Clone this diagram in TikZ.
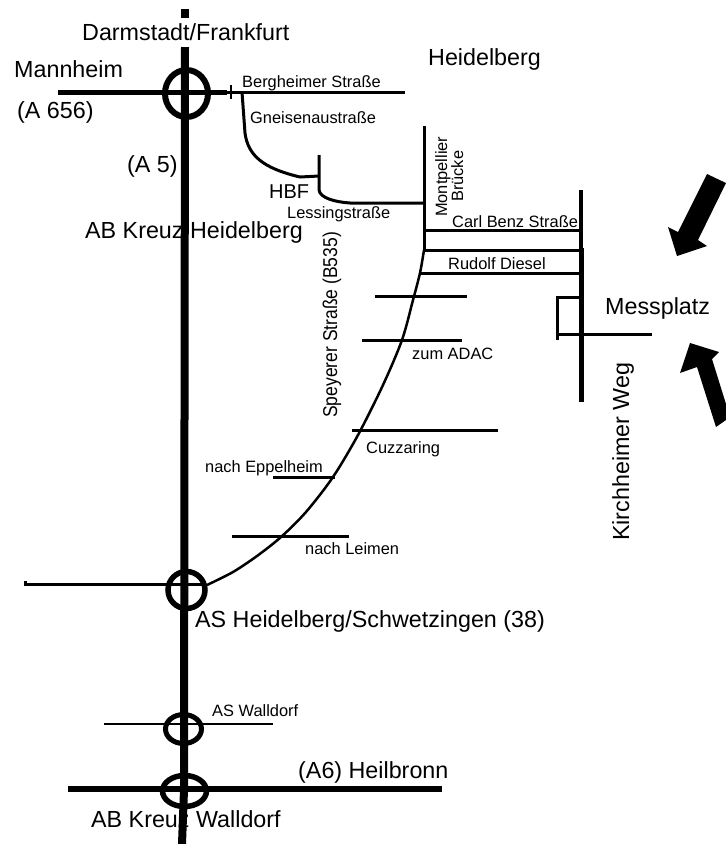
\documentclass[tikz,border=0pt]{standalone}
\usepackage{fontspec}
\setmainfont{Liberation Sans}
\newfontfamily\narrowfont[FakeStretch=.875]{Liberation Sans}
\tikzset{
	biglabel/.style={font=\fontsize{23.3pt}{25pt}\selectfont},
	midlabel/.style={font=\fontsize{20pt}{22pt}\selectfont},
	narrowlabel/.style={font=\narrowfont\fontsize{20pt}{22pt}\selectfont},
	smalllabel/.style={font=\fontsize{16.4pt}{18pt}\selectfont},
	highway/.style={draw,line width=8pt},
	mainroad/.style={draw,line width=5pt},
	road/.style={draw,line width=3pt},
	junction/.style={draw,line width=5.5pt}
}
\begin{document}
\begin{tikzpicture}[x=1pt,y=-1pt,% one unit is one pixel of the map
		every node/.style={
			anchor=base west,
			inner sep=0pt
		}
	]
	\useasboundingbox (0,0) rectangle (726,844);
	% labels
	\node[biglabel](Darmstadt) at (82,40){Darmstadt/Frankfurt};
	\node[biglabel](Mannheim) at (14,77){Mannheim};
	\node[biglabel](A656) at (17,118){(A 656)};
	\node[biglabel](Heidelberg) at (428,65){Heidelberg};
	\node[biglabel](A5) at (127,172){(A 5)};
	\node[biglabel](KreuzHD) at (85,238){AB Kreuz Heidelberg};
	\node[midlabel](HBF) at (269,198){HBF};
	\node[smalllabel](Bergheimer) at (242,87){Bergheimer Straße};
	\node[smalllabel](Gneisenau) at (250,123){Gneisenaustraße};
	\node[smalllabel](Lessing) at (287,218){Lessingstraße};
	\node[smalllabel,rotate=90](Montpellier) at (447,217){Montpellier};
	\node[smalllabel,rotate=90](Bruecke) at (463,202){Brücke};
	\node[smalllabel](CarlBenz) at (452,227){Carl Benz Straße};
	\node[smalllabel](Diesel) at (448,269){Rudolf Diesel};
	\node[biglabel](Messplatz) at (605,314){Messplatz};
	\node[biglabel,rotate=90](Kirchheimer) at (629,541){Kirchheimer Weg};
	\node[narrowlabel,rotate=90](Speyerer) at (337,418){Speyerer Straße (B535)};
	\node[smalllabel](ADAC) at (412,359){zum ADAC};
	\node[smalllabel](Cuzzaring) at (366,453){Cuzzaring};
	\node[smalllabel](Eppelheim) at (205,472){nach Eppelheim};
	\node[smalllabel](Leimen) at (305,554){nach Leimen};
	\node[biglabel](ASHD) at (195,627){AS Heidelberg/Schwetzingen (38)};
	\node[smalllabel](ASWalldorf) at (212,716){AS Walldorf};
	\node[biglabel](Heilbronn) at (298,778){(A6) Heilbronn};
	\node[biglabel](KreuzWD) at (91,827){AB Kreuz Walldorf};
	% autobahn
	\draw[highway] (185,9)--(185,18);
	\draw[highway] (185,47)--(184,790)--(182,844);
	\draw[mainroad] (58,92)--(227,92);
	\draw[line width=6pt] (68,789)--(442,789);
	\draw[junction,line width=6pt] (186.5,93.5) ellipse [x radius=21.5,y radius=23.5];
	\draw[junction] (186.5,590) ellipse [x radius=18.5,y radius=18.5];
	\draw[junction,line width=5pt] (183.5,729) ellipse [x radius=18,y radius=14.5];
	\draw[junction] (184.5,791) ellipse [x radius=22,y radius=15.5];
	\draw[road,line width=2.5pt] (104,724)--(273,724);
	\draw[road] (25,581)--(25,584)--(205,584);
	% town roads
	\draw[road] (227,92)--(405,92);
	\draw[line width=1.5pt] (231,85)--(231,99);
	\draw[road] (242,92)--(245,133) .. controls (248,155) and (262,168) .. (300,177)--(319,176);
	\draw[road] (319,155)--(319,190) .. controls (320,198) and (335,202) .. (350,203)--(424,203);
	\draw[road] (424,126)--(424,250);
	\draw[road,line width=2.5pt] plot[smooth] coordinates {(424,250) (420,273) (413,300) (402,340) (383,385) (358,435) (333,477) (306,512) (281,537) (257,556) (233,572) (207,585)};
	\draw[road] (424,230)--(581,230);
	\draw[road] (424,250)--(581,250);
	\draw[road] (420,273)--(581,273);
	\draw[road] (375,296)--(467,296);
	\draw[road] (362,340)--(462,340);
	\draw[road] (352,430)--(498,430);
	\draw[road] (273,477)--(335,477);
	\draw[road] (232,536)--(349,536);
	% messplatz
	\draw[road,line width=3.5pt] (581,190)--(581,250);
	\draw[mainroad] (581,248)--(581,402);
	\draw[road] (581,297)--(557,297)--(557,340);
	\draw[road] (557,334)--(652,334);
	\fill (707,174)--(726,183)--(698,240)--(707,246)--(677,256)--(668,227)--(678,232)--cycle;
	\fill (690,343)--(719,352)--(712,359)--(726,404)--(726,420)--(716,427)--(697,367)--(680,373)--cycle;
\end{tikzpicture}
\end{document}
